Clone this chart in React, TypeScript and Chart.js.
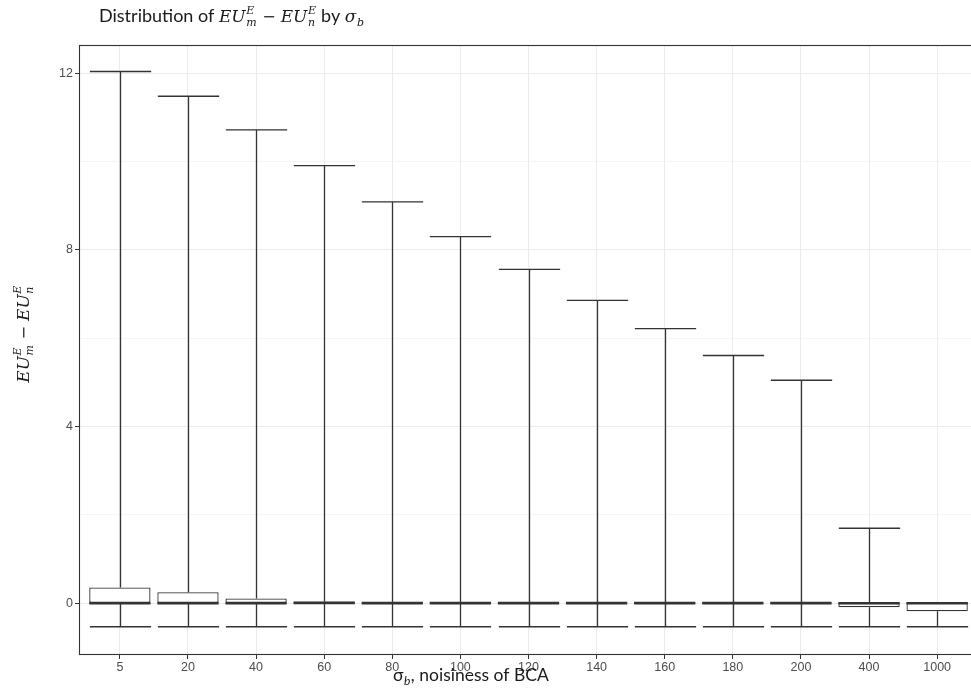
import { useEffect, useRef } from "react";
import { Chart, registerables } from "chart.js";

Chart.register(...registerables);

// σ_b levels along the x axis
const categories = ["5", "20", "40", "60", "80", "100", "120", "140", "160", "180", "200", "400", "1000"];

// Five-number summaries of EU_m^E − EU_n^E for each σ_b
const whiskerLow = [-0.53, -0.53, -0.53, -0.53, -0.53, -0.53, -0.53, -0.53, -0.53, -0.53, -0.53, -0.53, -0.53];
const q1 = [0.0, 0.0, 0.0, -0.005, 0.0, -0.01, -0.01, -0.01, -0.01, -0.01, -0.01, -0.09, -0.18];
const median = [0.0, 0.0, 0.0, 0.01, 0.005, 0.005, 0.005, 0.005, 0.005, 0.005, 0.005, 0.0, 0.0];
const q3 = [0.36, 0.25, 0.11, 0.035, 0.01, 0.02, 0.02, 0.02, 0.02, 0.02, 0.02, 0.01, 0.03];
const whiskerHigh = [12.04, 11.48, 10.72, 9.91, 9.09, 8.3, 7.56, 6.86, 6.22, 5.61, 5.05, 1.7, 0.03];

// y grid: major lines carry labels, minor lines sit halfway between
const yGridValues = [0, 2, 4, 6, 8, 10, 12];
const yLabelValues = [0, 4, 8, 12];

const INK = "#333333";
const BOX_FRACTION = 0.9;

type Run = { text: string; font: string; sup?: string; sub?: string; scriptFont?: string };

const SANS = '18px Lato';
const MATH = 'italic 17px "DejaVu Serif"';
const MATH_UP = '16px "DejaVu Serif"';
const SCRIPT = 'italic 11px "DejaVu Serif"';

function measureRuns(ctx: CanvasRenderingContext2D, runs: Run[]): number {
  let w = 0;
  for (const r of runs) {
    ctx.font = r.font;
    w += ctx.measureText(r.text).width;
    if (r.sup || r.sub) {
      ctx.font = r.scriptFont || SCRIPT;
      const a = r.sup ? ctx.measureText(r.sup).width : 0;
      const b = r.sub ? ctx.measureText(r.sub).width : 0;
      w += Math.max(a, b) + 1;
    }
  }
  return w;
}

function drawRuns(ctx: CanvasRenderingContext2D, runs: Run[], x: number, y: number) {
  let cx = x;
  ctx.textBaseline = "alphabetic";
  ctx.textAlign = "left";
  for (const r of runs) {
    ctx.font = r.font;
    ctx.fillText(r.text, cx, y);
    cx += ctx.measureText(r.text).width;
    if (r.sup || r.sub) {
      ctx.font = r.scriptFont || SCRIPT;
      let adv = 0;
      if (r.sup) {
        ctx.fillText(r.sup, cx + 0.5, y - 8);
        adv = Math.max(adv, ctx.measureText(r.sup).width);
      }
      if (r.sub) {
        ctx.fillText(r.sub, cx + 0.5, y + 4);
        adv = Math.max(adv, ctx.measureText(r.sub).width);
      }
      cx += adv + 1;
    }
  }
}

const titleRuns: Run[] = [
  { text: "Distribution of ", font: SANS },
  { text: "EU", font: MATH, sup: "E", sub: "m" },
  { text: " − ", font: MATH_UP },
  { text: "EU", font: MATH, sup: "E", sub: "n" },
  { text: " by ", font: SANS },
  { text: "σ", font: MATH, sub: "b" },
];

const yTitleRuns: Run[] = [
  { text: "EU", font: MATH, sup: "E", sub: "m" },
  { text: " − ", font: MATH_UP },
  { text: "EU", font: MATH, sup: "E", sub: "n" },
];

const xTitleRuns: Run[] = [
  { text: "σ", font: '17.5px Lato', sub: "b", scriptFont: 'italic 12px Lato' },
  { text: ", noisiness of BCA", font: '17.5px Lato' },
];

const boxPlotPlugin = {
  id: "boxWhiskers",
  beforeDatasetsDraw(chart: any) {
    const { ctx, scales } = chart;
    const xs = scales.x;
    const ys = scales.y;
    const half = ((xs.getPixelForValue(1) - xs.getPixelForValue(0)) * BOX_FRACTION) / 2;
    ctx.save();
    ctx.strokeStyle = INK;
    ctx.lineWidth = 1.3;
    categories.forEach((_, i) => {
      const cx = Math.round(xs.getPixelForValue(i)) + 0.5;
      const yHi = ys.getPixelForValue(whiskerHigh[i]);
      const yLo = ys.getPixelForValue(whiskerLow[i]);
      const yQ3 = ys.getPixelForValue(q3[i]);
      const yQ1 = ys.getPixelForValue(q1[i]);
      ctx.beginPath();
      ctx.moveTo(cx, yHi);
      ctx.lineTo(cx, yQ3);
      ctx.moveTo(cx, yQ1);
      ctx.lineTo(cx, yLo);
      if (whiskerHigh[i] > q3[i]) {
        ctx.moveTo(cx - half, yHi);
        ctx.lineTo(cx + half, yHi);
      }
      ctx.moveTo(cx - half, yLo);
      ctx.lineTo(cx + half, yLo);
      ctx.stroke();
    });
    ctx.restore();
  },
  afterDatasetsDraw(chart: any) {
    const { ctx, scales, chartArea } = chart;
    const xs = scales.x;
    const ys = scales.y;
    const half = ((xs.getPixelForValue(1) - xs.getPixelForValue(0)) * BOX_FRACTION) / 2;
    ctx.save();
    ctx.strokeStyle = INK;
    ctx.lineWidth = 2.6;
    ctx.lineCap = "butt";
    categories.forEach((_, i) => {
      const cx = xs.getPixelForValue(i);
      const ym = ys.getPixelForValue(median[i]);
      ctx.beginPath();
      ctx.moveTo(cx - half, ym);
      ctx.lineTo(cx + half, ym);
      ctx.stroke();
    });
    // panel border
    ctx.lineWidth = 1.1;
    ctx.strokeStyle = INK;
    ctx.strokeRect(
      chartArea.left + 0.5,
      chartArea.top + 0.5,
      chartArea.right - chartArea.left - 1,
      chartArea.bottom - chartArea.top - 1
    );
    ctx.restore();
  },
  afterDraw(chart: any) {
    const { ctx } = chart;
    ctx.save();
    ctx.fillStyle = "#1a1a1a";
    drawRuns(ctx, titleRuns, 99, 22);
    drawRuns(ctx, xTitleRuns, 393, 681);
    const w = measureRuns(ctx, yTitleRuns);
    ctx.translate(24, 334);
    ctx.rotate(-Math.PI / 2);
    drawRuns(ctx, yTitleRuns, -w / 2, 5);
    ctx.restore();
  },
};

export default function App() {
  const canvasRef = useRef<HTMLCanvasElement | null>(null);

  useEffect(() => {
    document.body.style.margin = "0";
    const canvas = canvasRef.current;
    if (!canvas) return;
    const chart = new Chart(canvas, {
      type: "bar",
      data: {
        datasets: [
          {
            data: categories.map((_, i) => ({ x: i, y: [q1[i], q3[i]] })) as any,
            backgroundColor: "#ffffff",
            borderColor: INK,
            borderWidth: 1.3,
            borderSkipped: false,
            barPercentage: BOX_FRACTION,
            categoryPercentage: 1,
          },
        ],
      },
      options: {
        animation: false,
        responsive: false,
        devicePixelRatio: 1,
        layout: { padding: { top: 45, right: 2, left: 0, bottom: 0 } },
        plugins: {
          legend: { display: false },
          tooltip: { enabled: false },
          title: { display: false },
        },
        scales: {
          x: {
            type: "linear",
            offset: false,
            min: -0.6,
            max: categories.length - 0.4,
            afterBuildTicks: (scale: any) => {
              scale.ticks = categories.map((_, i) => ({ value: i }));
            },
            afterFit: (scale: any) => {
              scale.height = 36;
            },
            ticks: {
              callback: (v: any) => categories[Math.round(Number(v))] ?? "",
              font: { family: '"Liberation Sans", Arial, sans-serif', size: 12.5 },
              color: "#4d4d4d",
              padding: 1,
              maxRotation: 0,
              autoSkip: false,
            },
            grid: {
              offset: false,
              color: "#ebebeb",
              lineWidth: 1,
              tickColor: INK,
              tickLength: 4,
            },
            border: { display: false },
          },
          y: {
            type: "linear",
            min: -1.17,
            max: 12.64,
            afterBuildTicks: (scale: any) => {
              scale.ticks = yGridValues.map((v) => ({ value: v }));
            },
            afterFit: (scale: any) => {
              scale.width = 79;
            },
            ticks: {
              callback: (v: any) => (yLabelValues.includes(Number(v)) ? String(v) : ""),
              font: { family: '"Liberation Sans", Arial, sans-serif', size: 12.5 },
              color: "#4d4d4d",
              padding: 2,
            },
            grid: {
              color: (c: any) => (c.tick && yLabelValues.includes(c.tick.value) ? "#ebebeb" : "#f3f3f3"),
              lineWidth: (c: any) => (c.tick && yLabelValues.includes(c.tick.value) ? 1 : 0.8),
              tickColor: (c: any) => (c.tick && yLabelValues.includes(c.tick.value) ? INK : "rgba(0,0,0,0)"),
              tickLength: 4,
            },
            border: { display: false },
          },
        },
      },
      plugins: [boxPlotPlugin],
    });
    return () => chart.destroy();
  }, []);

  return (
    <div
      style={{
        position: "absolute",
        left: 0,
        top: 0,
        width: 971,
        height: 691,
        overflow: "hidden",
        background: "#ffffff",
      }}
    >
      <canvas ref={canvasRef} width={980} height={691} style={{ display: "block" }} />
    </div>
  );
}
